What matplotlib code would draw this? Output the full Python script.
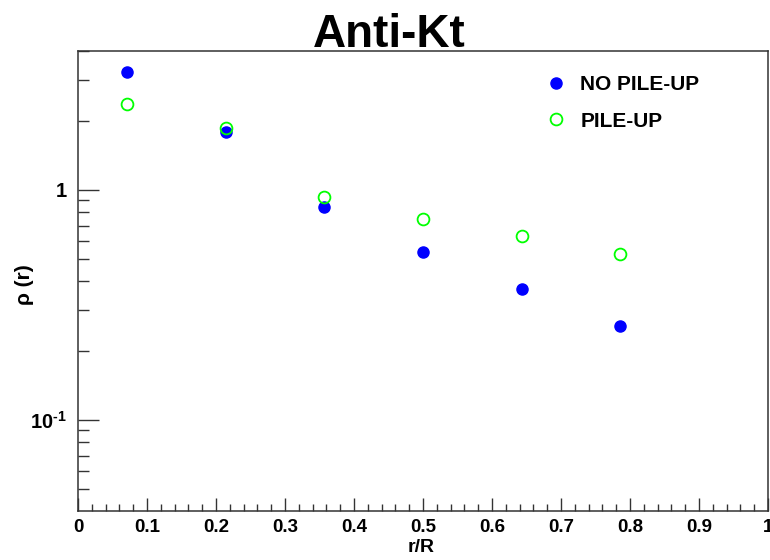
import matplotlib
matplotlib.use("Agg")
import matplotlib.pyplot as plt
from matplotlib.ticker import FixedLocator, FixedFormatter, NullFormatter

plt.rcParams['font.family'] = ['Liberation Sans', 'DejaVu Sans']
plt.rcParams['mathtext.fontset'] = 'custom'
plt.rcParams['mathtext.rm'] = 'Liberation Sans:bold'
plt.rcParams['mathtext.bf'] = 'Liberation Sans:bold'
plt.rcParams['mathtext.it'] = 'Liberation Sans:bold'

title = "Anti-Kt"
x_label = "r/R"
y_label = "ρ (r)"
r_over_R = [0.0714, 0.2143, 0.3571, 0.5, 0.6429, 0.7857]
no_pileup = [3.26, 1.79, 0.844, 0.538, 0.371, 0.256]
pileup = [2.37, 1.86, 0.932, 0.748, 0.631, 0.527]
series_names = ["NO PILE-UP", "PILE-UP"]
x_ticks = [0.0, 0.1, 0.2, 0.3, 0.4, 0.5, 0.6, 0.7, 0.8, 0.9, 1.0]
x_tick_labels = ["0", "0.1", "0.2", "0.3", "0.4", "0.5", "0.6", "0.7", "0.8", "0.9", "1"]
y_ticks = [0.1, 1]
y_tick_labels = [r"$10^{\text{-}1}$", "1"]

fig = plt.figure(figsize=(7.7, 5.6), dpi=100)
ax = fig.add_axes([78/770, 1-511/560, 690/770, 460/560])

ax.plot(r_over_R, no_pileup, 'o', color='#0000ff', ms=8, label=series_names[0], linestyle='none')
ax.plot(r_over_R, pileup, 'o', mfc='none', mec='#00ff00', mew=1.3, ms=8.5, label=series_names[1], linestyle='none')

ax.set_yscale('log')
ax.set_xlim(0, 1)
ax.set_ylim(0.0402, 4.02)

ax.xaxis.set_major_locator(FixedLocator(x_ticks))
ax.xaxis.set_major_formatter(FixedFormatter(x_tick_labels))
ax.xaxis.set_minor_locator(FixedLocator([i * 0.02 for i in range(51)]))
ax.yaxis.set_major_locator(FixedLocator(y_ticks))
ax.yaxis.set_major_formatter(FixedFormatter(y_tick_labels))
minors = [0.05, 0.06, 0.07, 0.08, 0.09] + [0.2, 0.3, 0.4, 0.5, 0.6, 0.7, 0.8, 0.9] + [2, 3, 4]
ax.yaxis.set_minor_locator(FixedLocator(minors))
ax.yaxis.set_minor_formatter(NullFormatter())

ax.tick_params(axis='both', which='both', direction='in', top=False, right=False, color='#333333')
ax.tick_params(axis='y', which='major', length=15, width=1, pad=8, labelsize=14.5)
ax.tick_params(axis='y', which='minor', length=7.7, width=1)
ax.tick_params(axis='x', which='major', length=9.4, width=1, pad=6, labelsize=13.5)
ax.tick_params(axis='x', which='minor', length=5, width=1)
for lab in ax.get_xticklabels() + ax.get_yticklabels():
    lab.set_fontweight('bold')
for s in ax.spines.values():
    s.set_color('#333333')
    s.set_linewidth(1.1)

fig.text(389/770, 1-47/560, title, ha='center', va='baseline', fontsize=33, fontweight='bold')
fig.text(421/770, 1-548/560, x_label, ha='center', va='center', fontsize=14, fontweight='bold')
fig.text(25/770, 1-285/560, y_label, ha='center', va='center', fontsize=15, fontweight='bold', rotation=90)

leg = ax.legend(loc='upper left', bbox_to_anchor=(545/770, 1-75/560), bbox_transform=fig.transFigure,
                frameon=False, prop={'weight': 'bold', 'size': 15}, handletextpad=0.6,
                labelspacing=0.85, handlelength=1.1, borderaxespad=0, borderpad=0)

fig.savefig("out.png", dpi=100)
